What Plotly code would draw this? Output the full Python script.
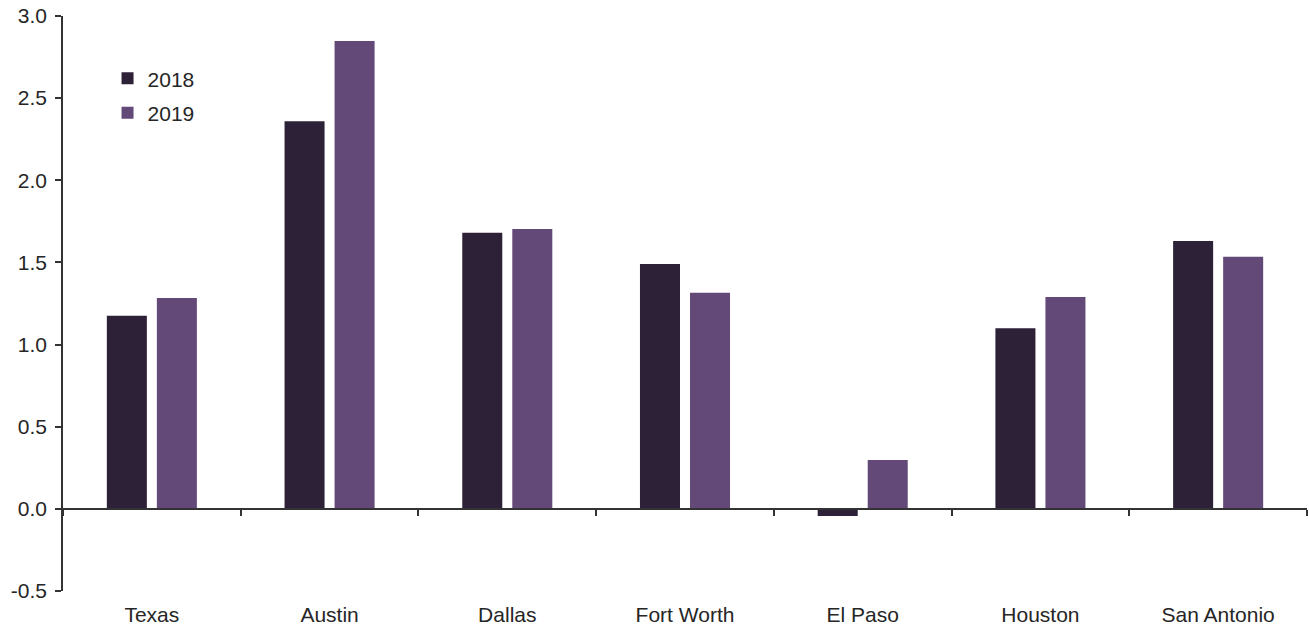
import plotly.graph_objects as go

categories = ["Texas", "Austin", "Dallas", "Fort Worth", "El Paso", "Houston", "San Antonio"]
values_2018 = [1.175, 2.36, 1.68, 1.49, -0.043, 1.10, 1.63]
values_2019 = [1.284, 2.848, 1.704, 1.315, 0.298, 1.29, 1.534]
y_ticks = [-0.5, 0.0, 0.5, 1.0, 1.5, 2.0, 2.5, 3.0]
y_ticktext = ["-0.5", "0.0", "0.5", "1.0", "1.5", "2.0", "2.5", "3.0"]

c2018 = "#2d2137"
c2019 = "#634978"
txt = "#262626"
axc = "#333333"
font = "Liberation Sans, Arial, sans-serif"
fs = 21

fig = go.Figure()
fig.add_trace(go.Bar(x=categories, y=values_2018, name="2018", marker=dict(color=c2018, line=dict(width=0)), legend="legend"))
fig.add_trace(go.Bar(x=categories, y=values_2019, name="2019", marker=dict(color=c2019, line=dict(width=0)), legend="legend2"))
# invisible trace on the zero-line axis (for boundary ticks)
fig.add_trace(go.Scatter(x=categories, y=[0]*len(categories), xaxis="x2", mode="markers",
                         marker=dict(opacity=0), showlegend=False, hoverinfo="skip"))

fig.update_layout(
    width=1309, height=627,
    margin=dict(l=63, r=2, t=16, b=36),
    paper_bgcolor="white", plot_bgcolor="white",
    font=dict(family=font, size=fs, color=txt),
    barmode="group", bargap=0.437, bargroupgap=0.2,
    showlegend=True,
    legend=dict(x=0.0358, y=0.891, xanchor="left", yanchor="middle", bgcolor="rgba(0,0,0,0)",
                font=dict(size=fs, color=txt, family=font)),
    legend2=dict(x=0.0358, y=0.831, xanchor="left", yanchor="middle", bgcolor="rgba(0,0,0,0)",
                 font=dict(size=fs, color=txt, family=font)),
    xaxis=dict(categoryorder="array", categoryarray=categories, range=[-0.5, 6.5],
               showline=False, showgrid=False, zeroline=False, ticks="",
               ticklabelstandoff=9, tickfont=dict(size=fs, color=txt)),
    xaxis2=dict(overlaying="x", matches="x", anchor="free", position=0.5/3.5,
                categoryorder="array", categoryarray=categories,
                showline=True, linecolor=axc, linewidth=1.5, showgrid=False, zeroline=False,
                ticks="outside", tickson="boundaries", ticklen=6, tickcolor=axc, tickwidth=1.5,
                showticklabels=False),
    yaxis=dict(range=[-0.5, 3.0], tickvals=y_ticks, ticktext=y_ticktext,
               showline=True, linecolor=axc, linewidth=1.5, showgrid=False, zeroline=False,
               ticks="outside", ticklen=6, tickcolor=axc, tickwidth=1.5,
               ticklabelstandoff=4, tickfont=dict(size=fs, color=txt)),
)

fig.write_html("out.html")
